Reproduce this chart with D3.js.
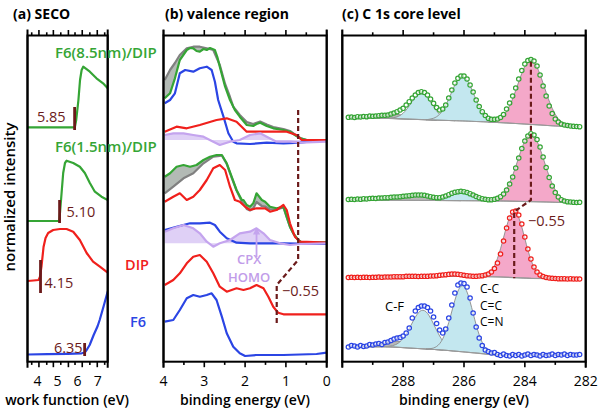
<!DOCTYPE html>
<html><head><meta charset="utf-8">
<script src="https://cdn.jsdelivr.net/npm/d3@7"></script>
<style>body{margin:0;background:#fff}svg{display:block}text{font-family:"Open Sans",sans-serif}</style>
</head><body>
<script>
// ---------------- DATA ----------------
// (a) SECO: [work function eV, intensity]
const secoF6 = [[3.5,7.5],[4.5,7.8],[5.5,8.2],[6.2,8.7],[6.35,9.5],[6.45,12],[6.6,17],[6.8,27],[7.0,36],[7.1,42],[7.3,56],[7.5,70.5]];
const secoDIP = [[3.5,81],[3.8,81.5],[4.05,82],[4.12,85],[4.2,96],[4.3,115],[4.4,124],[4.53,129],[4.78,132],[5.12,133],[5.45,133],[5.78,130.3],[6.11,122],[6.45,109],[6.77,100.3],[7.11,95.3],[7.5,89.3]];
const secoThin = [[3.5,141],[4.5,141],[5.08,141],[5.12,149],[5.2,169],[5.28,189],[5.37,199],[5.45,201.3],[5.78,199],[6.11,195.3],[6.36,189],[6.61,179],[6.86,170.3],[7.19,165.3],[7.5,162]];
const secoThick = [[3.5,234.7],[4.5,234.7],[5.86,234.7],[5.93,242],[6.04,262],[6.12,282],[6.2,292],[6.28,295.3],[6.61,290.3],[6.94,283.7],[7.27,278.7],[7.5,273.7]];
const secoEdges = [6.35, 4.15, 5.10, 5.85];
const secoEdgeLabels = ["6.35","4.15","5.10","5.85"];
const secoEdgeBars = [[6,19],[69,102],[139,162],[232,255]];
const aTickVals = [3.71,4.07,4.46,4.79,5.16,5.54,5.87,6.23,6.61,6.98,7.35];
const aTickLabels = [4,5,6,7];

// (b) valence region: [binding energy eV, intensity]
const vThickGreen = [[3.97,263.7],[3.84,268.7],[3.72,283.7],[3.6,302],[3.43,312],[3.35,314],[3.27,313.7],[3.19,311],[3.11,310.3],[3.02,313],[2.94,312],[2.86,314],[2.74,312],[2.68,305],[2.62,295.3],[2.49,275.3],[2.37,262],[2.25,252],[2.13,245.3],[1.96,237],[1.8,236],[1.72,238],[1.63,239.3],[1.47,236],[1.31,233.7],[1.06,232],[0.9,230.3],[0.78,227],[0.65,223.7],[0.49,222],[0,222]];
const vThickGray = [[3.97,282],[3.84,292],[3.72,299],[3.6,307],[3.43,313.7],[3.27,315.3],[3.11,315.3],[2.94,313.7],[2.78,312],[2.62,297],[2.49,278],[2.37,265],[2.29,255.3],[2.13,247],[1.96,240],[1.8,238],[1.63,240.5],[1.47,237.5],[1.31,235],[1.06,233],[0.9,231],[0.78,227.5],[0.65,224],[0.49,222],[0,222]];
const vTopBlue = [[3.97,258.7],[3.84,262],[3.72,268.7],[3.6,288.7],[3.47,292],[3.27,290.3],[3.11,293.7],[2.94,295.3],[2.82,292],[2.74,280.3],[2.66,262],[2.53,245.3],[2.41,228.7],[2.29,220.3],[2.21,218.7],[1.88,218],[1.47,219.3],[1.06,218.7],[0.65,219.3],[0.25,221.3],[0,222]];
const vTopRed = [[3.97,230.3],[3.68,235.3],[3.43,233.7],[3.11,237],[2.7,242],[2.45,243.7],[2.21,240.3],[1.96,230.3],[1.72,230.3],[1.47,230.3],[1.23,230.3],[0.98,230.3],[0.74,227],[0.61,222],[0,222]];
const vTopCPX = [[3.97,227],[3.76,228.7],[3.51,228.7],[3.27,227],[3.02,225.3],[2.78,220.3],[2.62,217],[2.37,220.3],[2.13,222],[1.88,227],[1.63,228.7],[1.47,225.3],[1.23,220.3],[0.9,220.3],[0.65,219.3],[0,220.3]];
const vThinGreen = [[3.97,185.3],[3.84,188.7],[3.68,195.3],[3.51,197],[3.35,195.3],[3.19,197],[3.02,202],[2.86,205.3],[2.7,207],[2.57,207],[2.45,198.7],[2.33,185.3],[2.21,172],[2.08,162],[2.04,162],[1.96,157],[1.88,155.3],[1.8,158.7],[1.72,168.7],[1.59,162],[1.51,160.3],[1.39,155.3],[1.23,153.7],[1.06,155.3],[0.98,145.3],[0.9,135.3],[0.82,128.7],[0.7,122],[0.61,119.3],[0,119.3]];
const vThinGray = [[3.97,168.7],[3.76,175.3],[3.51,183.7],[3.27,188.7],[3.02,198.7],[2.78,205.3],[2.62,206],[2.57,206.5],[2.45,198],[2.33,184.5],[2.21,171.5],[2.08,160.5],[1.96,153],[1.88,151.5],[1.8,153.5],[1.72,160],[1.59,156],[1.51,155.5],[1.39,152.5],[1.23,152.5],[1.06,154.5],[0.98,144.5],[0.9,135],[0.82,128.7],[0.7,122],[0.61,119.3],[0,119.3]];
const vMidRed = [[3.97,160.3],[3.76,165.3],[3.6,168.7],[3.43,162],[3.27,165.3],[3.11,172],[2.94,182],[2.78,193.7],[2.62,197],[2.49,192],[2.37,175.3],[2.25,162],[2.13,160.3],[2.0,155.3],[1.88,152],[1.72,153.7],[1.51,153.7],[1.39,150.3],[1.23,152],[1.06,157],[0.98,152],[0.9,138.7],[0.78,125.3],[0.65,120.3],[0,119.3]];
const vMidBlue = [[3.97,132],[3.68,135.3],[3.35,138.7],[3.11,138.7],[2.86,139.3],[2.74,137],[2.62,130.3],[2.45,123.7],[2.21,119.3],[1.88,118.7],[1.06,118.7],[0,118]];
const vMidCPX = [[3.97,130.3],[3.76,133.7],[3.51,137],[3.27,133.7],[3.11,128.7],[2.94,120.3],[2.78,115.3],[2.62,118.7],[2.37,122],[2.13,128.7],[1.88,130.3],[1.72,133.7],[1.55,128.7],[1.39,122],[1.14,118.7],[0.9,117],[0.65,118],[0,118.7]];
const vDIP = [[3.97,77],[3.76,82],[3.6,88.7],[3.43,98.7],[3.27,105.3],[3.11,107],[2.94,100.3],[2.78,88.7],[2.62,75.3],[2.45,70.3],[2.21,73.7],[2.04,72],[1.88,73.7],[1.72,77],[1.55,73.7],[1.43,65.3],[1.31,55.3],[1.19,49.3],[1.06,47.7],[0,47.7]];
const vF6 = [[3.97,40.3],[3.76,42],[3.6,52],[3.43,63.7],[3.27,67],[3.11,65.3],[2.94,67],[2.82,68.7],[2.7,62],[2.57,45.3],[2.45,28.7],[2.29,15.3],[2.13,8.7],[2.0,6],[1.72,7],[1.06,7],[0.25,8],[0,9.3]];
const vCPXbase = [222, 118.7];
const vShift = [[0.70,252],[0.70,102],[1.225,77],[1.225,37]];
const bTickVals = [4,3.5,3,2.5,2,1.5,1,0.5,0];

// (c) C 1s: binding energy grid and intensities of 4 spectra (top -> bottom)
const cE = [289.8,289.7,289.6,289.5,289.4,289.3,289.2,289.1,289.0,288.9,288.8,288.7,288.6,288.5,288.4,288.3,288.2,288.1,288.0,287.9,287.8,287.7,287.6,287.5,287.4,287.3,287.2,287.1,287.0,286.9,286.8,286.7,286.6,286.5,286.4,286.3,286.2,286.1,286.0,285.9,285.8,285.7,285.6,285.5,285.4,285.3,285.2,285.1,285.0,284.9,284.8,284.7,284.6,284.5,284.4,284.3,284.2,284.1,284.0,283.9,283.8,283.7,283.6,283.5,283.4,283.3,283.2,283.1,283.0,282.9,282.8,282.7,282.6,282.5,282.4,282.3,282.2];
const cThick = [244.7,245,244.5,245.3,245,245.5,245.3,246,245.7,246,246.3,246.7,246.7,247,248,249,250.3,252,253.7,257,260.3,264,267,269.5,270.3,269.5,267,263,258.7,254.5,252,253,257,264,272,279,283.7,286,286,283,277,270,262,255.5,250.3,246.5,243.7,242.7,242.7,243,244.5,247.5,253,259,266,274,283,291.5,298,301.5,302.5,301,296,287,276,266,256,248.5,243,240,238,237,236.5,236,235.7,235.5,235.3];
const cThin = [162.5,162.7,162.5,163,162.7,163.3,163,163.5,163.7,163.5,164,164,164.3,164.3,164.7,165,165,165.3,165.7,166,166.3,166.7,167,167,167,166.7,166,165.3,164.7,164.3,164.3,165,166,167.3,168.7,169.7,170.3,170.7,170.3,169.5,168.3,167,165.5,164.3,163.3,162.7,162.3,162.3,162.7,163.7,165.3,168,172,178,185,194,204,213.5,221,226,228.3,227,222.5,215,205,194.5,184.5,176,169.5,165,162.3,161,160.3,160,159.7,159.5,159.7];
const cDIP = [84.5,84.7,84.5,84.7,84.5,84.7,84.7,84.5,84.7,84.7,85,84.7,85,85,85,85.3,85.3,85.3,85.3,85.7,85.7,85.7,85.7,85.5,85.7,85.7,85.7,86,86,86.3,86.7,87,87.3,87.7,88,88,87.7,87.3,86.7,86.3,86,85.7,85.7,86,86.3,87,88,90,93.5,99,108,121,134,144,150,151,147,138,125,113,103,95,90,87,85.5,84.5,84,83.7,83.5,83.3,83.3,83.3,83,83.3,83,83,83];
const cF6 = [15,16.5,16,15,16.5,15.5,16,17.5,17,18,18.5,17.5,19.5,20,21.5,23,24,24.5,26,29,34,44,51,54.5,56,56,54.5,51,45,38.5,32,29,33,44,57,69,77,79,78.5,75,64,49,35,24,16.5,12,10.5,9,9.5,7.5,6.5,8,6.5,6,7.5,6.5,7.5,6,7,8,6.5,7.5,7,6,7.5,6.5,7,8,6.5,7.5,7,8,6.5,7.5,7,7,7.5];
// backgrounds [E, intensity]
const bgThick = [[289.8,244],[288.5,243.7],[287.8,242.8],[287.0,242],[286.0,241],[285.2,240],[284.3,238.5],[283.5,237],[283.0,236],[282.2,235.3]];
const bgThin = [[289.8,162],[287.0,161.5],[285.0,161.2],[283.3,160],[282.2,159]];
const bgDIP = [[289.8,84.5],[287.0,85.5],[285.5,85.5],[284.8,85],[283.8,83.7],[282.2,83]];
const bgF6 = [[289.8,15],[288.5,15.3],[287.8,14],[286.7,12],[285.5,8.7],[285.0,7],[282.2,7]];
// fit components [E, height above background]
const cmpThickGray = [[289.7,0],[289.5,0.25],[289.3,0.6],[289.1,1.25],[288.9,2.2],[288.7,3.27],[288.5,4.15],[288.3,4.5],[288.1,4.15],[287.9,3.27],[287.7,2.2],[287.5,1.25],[287.3,0.6],[287.1,0.25],[286.9,0]];
const cmpThickCF = [[288.5,0],[288.4,0.35],[288.3,0.8],[288.2,1.7],[288.1,3.2],[288.0,5.6],[287.9,9.0],[287.8,13.3],[287.7,18.0],[287.6,22.4],[287.5,25.5],[287.4,26.6],[287.3,25.5],[287.2,22.4],[287.1,18.0],[287.0,13.3],[286.9,9.0],[286.8,5.6],[286.7,3.2],[286.6,1.7],[286.5,0.8],[286.4,0.35],[286.3,0]];
const cmpThickCC = [[287.25,0],[287.15,0.5],[287.05,1.2],[286.95,2.3],[286.85,4.4],[286.75,7.5],[286.65,12.1],[286.55,18.1],[286.45,25.1],[286.35,32.4],[286.25,38.9],[286.15,43.4],[286.05,45],[285.95,43.4],[285.85,38.9],[285.75,32.4],[285.65,25.1],[285.55,18.1],[285.45,12.1],[285.35,7.5],[285.25,4.4],[285.15,2.3],[285.05,1.2],[284.95,0.5],[284.85,0]];
const cmpThickCX = [[285.2,0],[285.1,0.7],[285.0,1.3],[284.9,2.5],[284.8,4.3],[284.7,7.2],[284.6,11.5],[284.5,17.2],[284.4,24.4],[284.3,32.9],[284.2,42],[284.1,50.7],[284.0,58.1],[283.9,63],[283.8,64.7],[283.7,63],[283.6,58.1],[283.5,50.7],[283.4,42],[283.3,32.9],[283.2,24.4],[283.1,17.2],[283.0,11.5],[282.9,7.2],[282.8,4.3],[282.7,2.5],[282.6,1.3],[282.5,0.7],[282.4,0]];
const cmpThinGray = [[288.9,0],[288.7,0.25],[288.5,0.6],[288.3,1.25],[288.1,2.2],[287.9,3.27],[287.7,4.15],[287.5,4.5],[287.3,4.15],[287.1,3.27],[286.9,2.2],[286.7,1.25],[286.5,0.6],[286.3,0.25],[286.1,0]];
const cmpThinCC = [[287.25,0],[287.15,0.2],[287.05,0.4],[286.95,0.7],[286.85,1.2],[286.75,1.9],[286.65,2.9],[286.55,4.1],[286.45,5.5],[286.35,6.8],[286.25,7.9],[286.15,8.7],[286.05,9],[285.95,8.7],[285.85,7.9],[285.75,6.8],[285.65,5.5],[285.55,4.1],[285.45,2.9],[285.35,1.9],[285.25,1.2],[285.15,0.7],[285.05,0.4],[284.95,0.2],[284.85,0]];
const cmpThinCX = [[285.2,0],[285.1,0.7],[285.0,1.4],[284.9,2.6],[284.8,4.6],[284.7,7.6],[284.6,12.1],[284.5,18.1],[284.4,25.7],[284.3,34.6],[284.2,44.1],[284.1,53.3],[284.0,61],[283.9,66.2],[283.8,68],[283.7,66.2],[283.6,61],[283.5,53.3],[283.4,44.1],[283.3,34.6],[283.2,25.7],[283.1,18.1],[283.0,12.1],[282.9,7.6],[282.8,4.6],[282.7,2.6],[282.6,1.4],[282.5,0.7],[282.4,0]];
const cmpDIPCX = [[285.55,0],[285.45,0.35],[285.35,0.9],[285.25,2.0],[285.15,4.2],[285.05,8.0],[284.95,14.1],[284.85,22.7],[284.75,33.5],[284.65,45.4],[284.55,56.4],[284.45,64.2],[284.35,67],[284.25,64.2],[284.15,56.4],[284.05,45.4],[283.95,33.5],[283.85,22.7],[283.75,14.1],[283.65,8.0],[283.55,4.2],[283.45,2.0],[283.35,0.9],[283.25,0.35],[283.15,0]];
const cmpF6Gray = [[289.5,0],[289.3,0.35],[289.1,0.8],[288.9,1.65],[288.7,2.9],[288.5,4.35],[288.3,5.5],[288.1,6],[287.9,5.5],[287.7,4.35],[287.5,2.9],[287.3,1.65],[287.1,0.8],[286.9,0.35],[286.7,0]];
const cmpF6CF = [[288.55,0],[288.45,0.6],[288.35,1.2],[288.25,2.4],[288.15,4.3],[288.05,7.2],[287.95,11.2],[287.85,16.4],[287.75,22.4],[287.65,28.5],[287.55,34],[287.45,37.7],[287.35,39],[287.25,37.7],[287.15,34],[287.05,28.5],[286.95,22.4],[286.85,16.4],[286.75,11.2],[286.65,7.2],[286.55,4.3],[286.45,2.4],[286.35,1.2],[286.25,0.6],[286.15,0]];
const cmpF6CC = [[287.25,0],[287.15,0.35],[287.05,0.9],[286.95,2.0],[286.85,4.2],[286.75,8.0],[286.65,14.1],[286.55,22.7],[286.45,33.5],[286.35,45.4],[286.25,56.4],[286.15,64.2],[286.05,67],[285.95,64.2],[285.85,56.4],[285.75,45.4],[285.65,33.5],[285.55,22.7],[285.45,14.1],[285.35,8.0],[285.25,4.2],[285.15,2.0],[285.05,0.9],[284.95,0.35],[284.85,0]];
const cShift = [[283.8,300.3],[283.8,162],[284.35,150.3],[284.35,83.7]];
const cTickVals = [290,289,288,287,286,285,284,283,282];
const cTickLabels = [288,286,284,282];

// ---------------- DRAW ----------------
const W = 600, H = 413;
const C = {green:"#35a535", red:"#f0201c", blue:"#2b45e4", gray:"#808080", cpx:"#c4a4ee", cpxFill:"#dccbf5",
  maroon:"#6b1a1a", band:"#b3bab5", lblue:"#c3e7ef", pink:"#f4a8c9", cgray:"#b8b8b8", cline:"#8a8a8a"};
const svg = d3.select("body").append("svg").attr("width",W).attr("height",H);
svg.append("rect").attr("width",W).attr("height",H).attr("fill","#fff");

const TOP = 35.5, BOT = 361.7;
const yS = d3.scaleLinear().domain([0,327]).range([362,35]);
const xA = d3.scaleLinear().domain([3.5,7.5]).range([27.5,107.7]);
const xB = d3.scaleLinear().domain([4,0]).range([163.5,326.7]);
const xC = d3.scaleLinear().domain([290,282]).range([342.3,585.7]);

const defs = svg.append("defs");
function clip(id, x){ defs.append("clipPath").attr("id",id).append("rect")
  .attr("x",x.range()[0]).attr("y",TOP).attr("width",x.range()[1]-x.range()[0]).attr("height",BOT-TOP); }
clip("ca",xA); clip("cb",xB); clip("cc",xC);

function frame(x, ticks, isMajor){
  const g = svg.append("g");
  const [x0,x1] = x.range();
  ticks.forEach((v,i)=>{
    const L = isMajor(v,i) ? 5.5 : 3.2;
    g.append("line").attr("x1",x(v)).attr("x2",x(v)).attr("y1",TOP).attr("y2",TOP-L).attr("stroke","#000").attr("stroke-width",1.6);
    g.append("line").attr("x1",x(v)).attr("x2",x(v)).attr("y1",BOT).attr("y2",BOT+L).attr("stroke","#000").attr("stroke-width",1.6);
  });
  [x0,x1].forEach(xx=>g.append("line").attr("x1",xx).attr("x2",xx).attr("y1",TOP-6).attr("y2",BOT+6).attr("stroke","#000").attr("stroke-width",2));
  g.append("rect").attr("x",x0).attr("y",TOP).attr("width",x1-x0).attr("height",BOT-TOP).attr("fill","none").attr("stroke","#000").attr("stroke-width",2);
}

function txt(x,y,s,o={}){
  return svg.append("text").attr("x",x).attr("y",y).text(s)
    .attr("font-size",o.size||13).attr("font-weight",o.weight||400).attr("fill",o.fill||"#000")
    .attr("text-anchor",o.anchor||"start");
}

// ---------- panel (a)
const ga = svg.append("g").attr("clip-path","url(#ca)");
const lineA = d3.line().x(d=>xA(d[0])).y(d=>yS(d[1]));
[[secoThick,C.green],[secoThin,C.green],[secoDIP,C.red],[secoF6,C.blue]].forEach(([d,c])=>
  ga.append("path").attr("d",lineA(d)).attr("fill","none").attr("stroke",c).attr("stroke-width",2.2).attr("stroke-linejoin","round"));
secoEdges.forEach((e,i)=>{
  ga.append("line").attr("x1",xA(e)).attr("x2",xA(e)).attr("y1",yS(secoEdgeBars[i][0])).attr("y2",yS(secoEdgeBars[i][1]))
    .attr("stroke",C.maroon).attr("stroke-width",2.8);
});
frame(xA, aTickVals, (v,i)=>i%2===1);
aTickLabels.forEach(v=>txt(xA(v),386,v,{size:14,anchor:"middle"}));
// edge labels
txt(xA(6.35)-2,353,secoEdgeLabels[0],{size:14.5,fill:C.maroon,anchor:"end"});
txt(xA(4.15)+4,288,secoEdgeLabels[1],{size:14.5,fill:C.maroon});
txt(xA(5.10)+7,217,secoEdgeLabels[2],{size:14.5,fill:C.maroon});
txt(xA(5.85)-9,122,secoEdgeLabels[3],{size:14.5,fill:C.maroon,anchor:"end"});
txt(55,58,"F6(8.5nm)/DIP",{size:15,weight:600,fill:C.green});
txt(55,152,"F6(1.5nm)/DIP",{size:15,weight:600,fill:C.green});
txt(125,270,"DIP",{size:14.5,weight:600,fill:C.red});
txt(130,327,"F6",{size:14.5,weight:600,fill:C.blue});

// ---------- panel (b)
const gb = svg.append("g").attr("clip-path","url(#cb)");
const lineB = d3.line().x(d=>xB(d[0])).y(d=>yS(d[1]));
function fillCPX(d,base){
  const poly = [[d[0][0],base],...d,[d[d.length-1][0],base]];
  gb.append("path").attr("d",lineB(poly)+"Z").attr("fill",C.cpxFill).attr("opacity",0.9);
}
function band(a,b){
  const poly = [...a,...b.slice().reverse()];
  gb.append("path").attr("d",lineB(poly)+"Z").attr("fill",C.band);
}
fillCPX(vTopCPX,vCPXbase[0]); fillCPX(vMidCPX,vCPXbase[1]);
band(vThickGray,vThickGreen); band(vThinGreen,vThinGray);
const lw = 2.2;
function plB(d,c){ gb.append("path").attr("d",lineB(d)).attr("fill","none").attr("stroke",c).attr("stroke-width",lw).attr("stroke-linejoin","round"); }
plB(vThickGray,C.gray); plB(vThinGray,C.gray);
plB(vThickGreen,C.green); plB(vThinGreen,C.green);
plB(vTopBlue,C.blue); plB(vMidBlue,C.blue);
plB(vTopRed,C.red); plB(vMidRed,C.red);
plB(vTopCPX,C.cpx); plB(vMidCPX,C.cpx);
plB(vDIP,C.red); plB(vF6,C.blue);
gb.append("path").attr("d",lineB(vShift)).attr("fill","none").attr("stroke",C.maroon).attr("stroke-width",2.2).attr("stroke-dasharray","5,3");
// CPX HOMO arrow
defs.append("marker").attr("id","arr").attr("viewBox","0 0 10 10").attr("refX",5).attr("refY",5)
  .attr("markerWidth",4).attr("markerHeight",4).attr("orient","auto")
  .append("path").attr("d","M0,0L10,5L0,10z").attr("fill",C.cpx);
svg.append("line").attr("x1",xB(1.72)).attr("x2",xB(1.72)).attr("y1",yS(105)).attr("y2",yS(131))
  .attr("stroke",C.cpx).attr("stroke-width",1.8).attr("marker-end","url(#arr)");
txt(xB(1.9),264,"CPX",{size:13,weight:600,fill:"#c19ce9",anchor:"middle"});
txt(xB(1.9),282,"HOMO",{size:13,weight:600,fill:"#c19ce9",anchor:"middle"});
txt(282,296,"\u22120.55",{size:14.5,fill:C.maroon});
frame(xB, bTickVals, v=>Number.isInteger(v));
[4,3,2,1,0].forEach(v=>txt(xB(v),386,v,{size:14,anchor:"middle"}));

// ---------- panel (c)
const gc = svg.append("g").attr("clip-path","url(#cc)");
function bgScale(bg){ return d3.scaleLinear().domain(bg.map(d=>d[0])).range(bg.map(d=>d[1])); }
function row(vals, bg, comps, col){
  const b = bgScale(bg);
  comps.forEach(([cd,fc])=>{
    const area = d3.area().x(d=>xC(d[0])).y0(d=>yS(b(d[0]))).y1(d=>yS(b(d[0])+d[1])).curve(d3.curveBasis);
    gc.append("path").attr("d",area(cd)).attr("fill",fc).attr("stroke",C.cline).attr("stroke-width",0.9);
  });
  gc.append("path").attr("d",d3.line().x(d=>xC(d[0])).y(d=>yS(d[1]))(bg)).attr("fill","none").attr("stroke","#9a9a9a").attr("stroke-width",1.2);
  gc.append("g").selectAll("circle").data(vals).join("circle")
    .attr("cx",(d,i)=>xC(cE[i])).attr("cy",d=>yS(d)).attr("r",2.2)
    .attr("fill","#fff").attr("fill-opacity",0.6).attr("stroke",col).attr("stroke-width",1.2);
}
row(cThick, bgThick, [[cmpThickGray,C.cgray],[cmpThickCF,C.lblue],[cmpThickCC,C.lblue],[cmpThickCX,C.pink]], C.green);
row(cThin, bgThin, [[cmpThinGray,C.cgray],[cmpThinCC,C.lblue],[cmpThinCX,C.pink]], C.green);
row(cDIP, bgDIP, [[cmpDIPCX,C.pink]], C.red);
row(cF6, bgF6, [[cmpF6Gray,C.cgray],[cmpF6CF,C.lblue],[cmpF6CC,C.lblue]], C.blue);
gc.append("path").attr("d",d3.line().x(d=>xC(d[0])).y(d=>yS(d[1]))(cShift)).attr("fill","none")
  .attr("stroke",C.maroon).attr("stroke-width",2.2).attr("stroke-dasharray","5,3");
txt(528,226,"\u22120.55",{size:14.5,fill:C.maroon});
txt(385,311,"C-F",{size:13});
txt(480,293,"C-C",{size:12}); txt(480,309.5,"C=C",{size:12}); txt(480,326,"C=N",{size:12});
frame(xC, cTickVals, v=>v%2===0);
cTickLabels.forEach(v=>txt(xC(v),386,v,{size:14,anchor:"middle"}));

// ---------- titles
txt(13,19,"(a) SECO",{size:14,weight:700});
txt(165,19,"(b) valence region",{size:14,weight:700});
txt(342,19,"(c) C 1s core level",{size:14,weight:700});
txt(67,405,"work function (eV)",{size:14,weight:600,anchor:"middle"});
txt(245,405,"binding energy (eV)",{size:14,weight:600,anchor:"middle"});
txt(464,405,"binding energy (eV)",{size:14,weight:600,anchor:"middle"});
svg.append("text").attr("transform","translate(15,197) rotate(-90)").attr("text-anchor","middle")
  .attr("font-size",15).attr("font-weight",600).text("normalized intensity");
</script>
</body></html>
